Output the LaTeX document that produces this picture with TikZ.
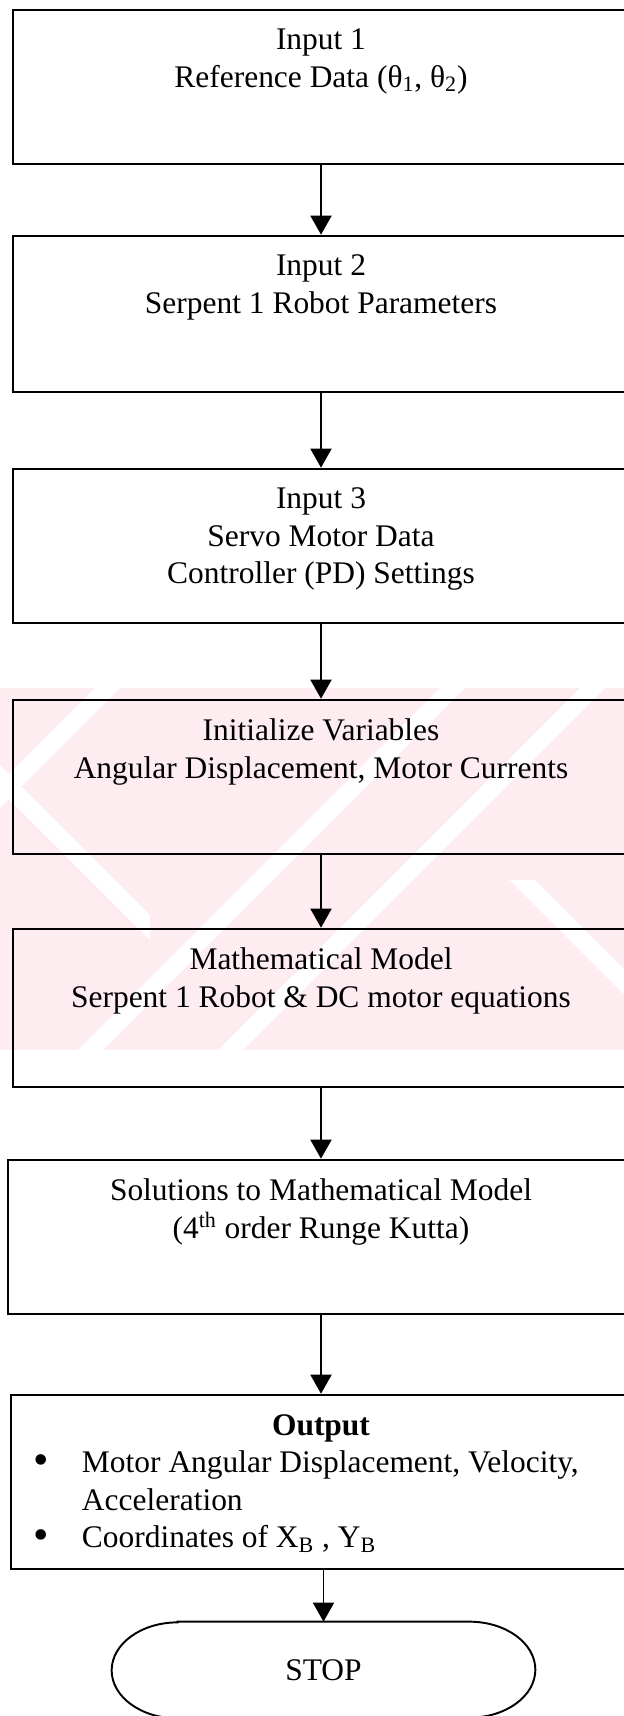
\documentclass[tikz,border=0pt]{standalone}
\usepackage{fontspec}
\usepackage{array}
\setmainfont{Liberation Serif}
\usetikzlibrary{arrows.meta, positioning}

\definecolor{markpink}{RGB}{253,236,240}

\newcommand{\flowbullet}{\raisebox{-0.05em}{\scalebox{1.4}{\textbullet}}}

\tikzset{
  flowbox/.style={draw, rectangle, line width=1.5pt, minimum width=12.32cm, minimum height=3.08cm},
  flowtext/.style={inner sep=0pt, align=center},
  flowline/.style={line width=1.1pt, -{Triangle[width=0.42cm, length=0.38cm]}},
}

\begin{document}
\begin{tikzpicture}[font=\fontsize{17.9pt}{21.3pt}\selectfont]
				\useasboundingbox (0,0) rectangle (12.48,-34.32);

				% pale band with white stripes behind the middle steps
				\begin{scope}
					\clip (0,-13.76) rectangle (12.48,-21.0);
					\fill[markpink] (0,-13.76) rectangle (12.48,-21.0);
					\foreach \x in {1.9, 8.8, 11.6}
						\fill[white] (\x,-13.76) -- ++(0.5,0) -- ++(-7.24,-7.24) -- ++(-0.5,0) -- cycle;
					\fill[white] (0,-15.3) -- ++(0,-0.5) -- ++(3,-3) -- ++(0,0.5) -- cycle;
					\fill[white] (10.2,-17.6) -- ++(0.5,0) -- ++(3.4,-3.4) -- ++(-0.5,0) -- cycle;
				\end{scope}

				\node[flowbox] (in1) at (6.42,-1.74) {};
				\node[flowtext, below=0.4cm of in1.north] (in1txt) {Input 1\\Reference Data (θ\textsubscript{1}, θ\textsubscript{2})};

				\node[flowbox, minimum height=3.12cm] (in2) at (6.42,-6.28) {};
				\node[flowtext, below=0.4cm of in2.north] (in2txt) {Input 2\\Serpent 1 Robot Parameters};

				\node[flowbox] (in3) at (6.42,-10.92) {};
				\node[flowtext, below=0.4cm of in3.north] (in3txt) {Input 3\\Servo Motor Data\\Controller (PD) Settings};

				\node[flowbox] (init) at (6.42,-15.54) {};
				\node[flowtext, below=0.4cm of init.north] (inittxt) {Initialize Variables\\Angular Displacement, Motor Currents};

				\node[flowbox, minimum height=3.16cm] (model) at (6.42,-20.16) {};
				\node[flowtext, below=0.4cm of model.north] (modeltxt) {Mathematical Model\\Serpent 1 Robot \& DC motor equations};

				\node[flowbox, minimum width=12.52cm] (solve) at (6.42,-24.74) {};
				\node[flowtext, below=0.4cm of solve.north] (solvetxt) {Solutions to Mathematical Model\\(4\textsuperscript{th} order Runge Kutta)};

				\node[flowbox, minimum width=12.4cm, minimum height=3.48cm] (out) at (6.42,-29.64) {};
				\node[flowtext, below=0.3cm of out.north] (outtxt) {%
					\begin{tabular}{@{}p{0.98cm}@{}>{\raggedright\arraybackslash}p{10.54cm}@{}}
						\multicolumn{2}{c}{\textbf{Output}}\\
						\flowbullet & Motor Angular Displacement, Velocity, Acceleration\\
						\flowbullet & Coordinates of X\textsubscript{B} , Y\textsubscript{B}
					\end{tabular}};

				% terminal with long elliptic ends
				\node[minimum width=8.46cm, minimum height=1.92cm, inner sep=0pt] (stop) at (6.47,-33.4) {STOP};
				\draw[line width=1.1pt] ([xshift=1.32cm]stop.north west) -- ([xshift=-1.32cm]stop.north east)
					arc[start angle=90, end angle=-90, x radius=1.32cm, y radius=0.96cm]
					-- ([xshift=1.32cm]stop.south west)
					arc[start angle=270, end angle=90, x radius=1.32cm, y radius=0.96cm] -- cycle;

				\draw[flowline] (in1) -- (in2);
				\draw[flowline] (in2) -- (in3);
				\draw[flowline] (in3) -- (init);
				\draw[flowline] (init) -- (model);
				\draw[flowline] (model) -- (solve);
				\draw[flowline] (solve) -- (out);
				\draw[flowline] (out.south -| stop) -- (stop.north);
			\end{tikzpicture}
\end{document}
